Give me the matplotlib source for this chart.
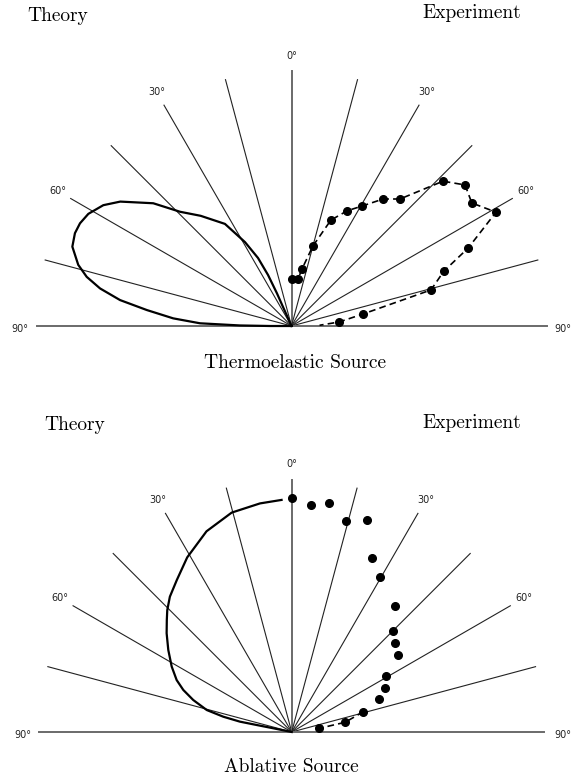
import numpy as np
import matplotlib
matplotlib.use('Agg')
import matplotlib.pyplot as plt

# angles in degrees from the vertical; negative = left (theory) half
grid_angles = [-90, -75, -60, -45, -30, -15, 0, 15, 30, 45, 60, 75, 90]
label_angles = [-90, -60, -30, 0, 30, 60, 90]
label_text = ['90°', '60°', '30°', '0°', '30°', '60°', '90°']

# thermoelastic source, radii relative to grid line length
thermo_theory_deg = [-24, -24, -24, -24.7, -26.2, -29, -33.1, -39.5, -44.3, -48.4,
                     -54, -57.3, -61.1, -64.1, -66.8, -70.1, -74, -76.5, -78.9,
                     -81.4, -83.7, -86.3, -88.3, -89.4, -90, -90]
thermo_theory_r = [0, 0.07, 0.14, 0.22, 0.297, 0.376, 0.478, 0.56, 0.626, 0.725,
                   0.83, 0.877, 0.91, 0.922, 0.924, 0.914, 0.87, 0.826, 0.765,
                   0.68, 0.571, 0.465, 0.359, 0.202, 0.084, 0]
thermo_exp_deg = [0, 7.9, 10.4, 15, 20.4, 25.8, 30.4, 35.8, 40.5, 46.3, 50.9,
                  55.7, 60.9, 66.2, 70.2, 75.5, 80.5, 85.2]
thermo_exp_r = [0.184, 0.186, 0.227, 0.325, 0.443, 0.502, 0.545, 0.614, 0.655, 0.822,
                0.877, 0.856, 0.918, 0.757, 0.635, 0.565, 0.284, 0.187]
thermo_tail = (88.5, 0.11)

# ablative source
abl_theory_deg = [-2.5, -7.9, -15.3, -23, -30.9, -37.1, -42, -45.6, -48.1, -51.7,
                  -56.4, -61.4, -65.7, -68.8, -72, -75.5, -77.4, -78.7, -78.7,
                  -78.6, -78.6]
abl_theory_r = [0.911, 0.905, 0.892, 0.855, 0.798, 0.747, 0.714, 0.683, 0.658, 0.625,
                0.581, 0.536, 0.495, 0.456, 0.406, 0.344, 0.275, 0.207, 0.14,
                0.074, 0]
abl_exp_deg = [0, 4.8, 9.3, 14.4, 19.6, 24.7, 29.7, 39.3, 44.9, 49.4, 54.2, 59.3,
               64.8, 69.4, 74.2, 79.7, 82.4]
abl_exp_r = [0.916, 0.893, 0.909, 0.855, 0.882, 0.752, 0.701, 0.639, 0.561, 0.535,
             0.516, 0.430, 0.403, 0.364, 0.292, 0.213, 0.109]
abl_dashed_from = 14  # only the last few points are joined

W, H = 572, 778
SCALE = 255.0  # pixels per unit radius


def xy(deg, r):
    t = np.radians(np.asarray(deg, dtype=float))
    r = np.asarray(r, dtype=float)
    return r * np.sin(t), r * np.cos(t)


def setup_axes(fig, top_px, bot_px, ox, oy):
    ax = fig.add_axes([0, 1 - bot_px / H, 1, (bot_px - top_px) / H])
    ax.set_xlim(-ox / SCALE, (W - ox) / SCALE)
    ax.set_ylim((oy - bot_px) / SCALE, (oy - top_px) / SCALE)
    ax.axis('off')
    return ax


def draw_grid(ax, length, label_r, ox):
    for a in grid_angles:
        x, y = xy([a, a], [0, length])
        if a in (0, -90, 90):
            ax.plot(x, y, color='#6a6a6a', lw=1.4, zorder=1)
        else:
            ax.plot(x, y, color='#222222', lw=0.8, zorder=1)
    for a, s in zip(label_angles, label_text):
        style = dict(fontsize=7, va='center', color='#222222', family='DejaVu Sans')
        if a == -90:
            ax.text(-length - 0.03, -0.012, s, ha='right', **style)
        elif a == 90:
            ax.text((W - 1 - ox) / SCALE, -0.012, s, ha='right', **style)
        else:
            x, y = xy(a, label_r)
            ax.text(x, y, s, ha='center', **style)


fig = plt.figure(figsize=(W / 100, H / 100), dpi=100)
fig.patch.set_facecolor('white')

# top panel: thermoelastic
ax1 = setup_axes(fig, 0, 389, 291.5, 326)
draw_grid(ax1, 1.0, 1.06, 291.5)
x, y = xy(thermo_theory_deg, thermo_theory_r)
ax1.plot(x, y, color='black', lw=1.6, zorder=3, solid_joinstyle='round')
x, y = xy(thermo_exp_deg + [thermo_tail[0]], thermo_exp_r + [thermo_tail[1]])
ax1.plot(x, y, color='black', lw=1.2, ls=(0, (4, 2.5)), zorder=3)
x, y = xy(thermo_exp_deg, thermo_exp_r)
ax1.plot(x, y, 'o', color='black', ms=5.5, zorder=4)

# bottom panel: ablative
ax2 = setup_axes(fig, 389, 778, 291.7, 732)
draw_grid(ax2, 0.99, 1.05, 291.7)
x, y = xy(abl_theory_deg, abl_theory_r)
ax2.plot(x, y, color='black', lw=1.6, zorder=3, solid_joinstyle='round')
x, y = xy(abl_exp_deg[abl_dashed_from:], abl_exp_r[abl_dashed_from:])
ax2.plot(x, y, color='black', lw=1.2, ls=(0, (4, 2.5)), zorder=3)
x, y = xy(abl_exp_deg, abl_exp_r)
ax2.plot(x, y, 'o', color='black', ms=5.5, zorder=4)

# titles
serif = dict(family='cmr10', color='black', fontsize=14)
fig.text(27 / W, 1 - 16 / H, 'Theory', ha='left', va='center', **serif)
fig.text(521 / W, 1 - 13 / H, 'Experiment', ha='right', va='center', **serif)
fig.text(295 / W, 1 - 363 / H, 'Thermoelastic Source', ha='center', va='center', **serif)
fig.text(44 / W, 1 - 425 / H, 'Theory', ha='left', va='center', **serif)
fig.text(521 / W, 1 - 423 / H, 'Experiment', ha='right', va='center', **serif)
fig.text(291 / W, 1 - 767 / H, 'Ablative Source', ha='center', va='center', **serif)

fig.savefig('out.png', dpi=100, facecolor='white')
